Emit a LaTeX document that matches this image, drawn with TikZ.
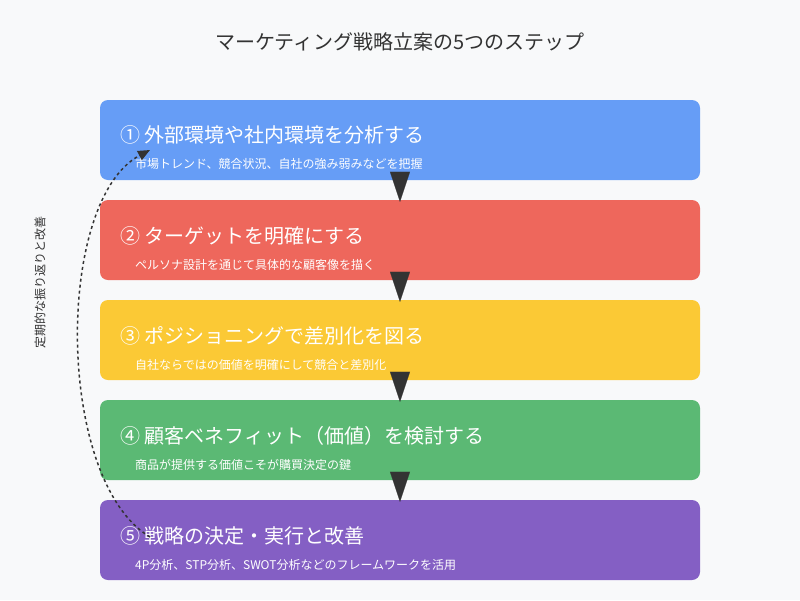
\documentclass[tikz,border=0pt]{standalone}
\usepackage{fontspec}
\setmainfont{Noto Sans CJK JP}
\usetikzlibrary{arrows.meta}
\definecolor{bg}{HTML}{F8F9FA}
\definecolor{c1}{HTML}{669DF6}
\definecolor{c2}{HTML}{EE675C}
\definecolor{c3}{HTML}{FBC935}
\definecolor{c4}{HTML}{5BB974}
\definecolor{c5}{HTML}{845FC4}
\definecolor{ink}{HTML}{333333}
\tikzset{
 stepbox/.style={rounded corners=8pt,minimum width=600pt,minimum height=80pt,inner sep=0pt},
 head/.style={anchor=west,text=white,font=\fontsize{20pt}{24pt}\selectfont,inner sep=0pt},
 sub/.style={anchor=west,text=white,font=\fontsize{12pt}{14pt}\selectfont,inner sep=0pt},
 arr/.style={draw=ink,fill=ink,line width=0.1pt,-{Triangle[width=20pt,length=30pt]}},
}
\begin{document}
\begin{tikzpicture}[x=1pt,y=-1pt]
\fill[bg] (0,0) rectangle (800,600);
\useasboundingbox (0,0) rectangle (800,600);
\node[font=\fontsize{20pt}{24pt}\selectfont,text=ink] (title) at (400,42) {マーケティング戦略立案の5つのステップ};
\foreach \i/\c in {1/c1,2/c2,3/c3,4/c4,5/c5}{
  \node[stepbox,fill=\c] (b\i) at (400,40+100*\i) {};
}
\node[head] (h1) at (120,135) {① 外部環境や社内環境を分析する};
\node[sub] (s1) at (135,164) {市場トレンド、競合状況、自社の強み弱みなどを把握};
\node[head] (h2) at (120,236) {② ターゲットを明確にする};
\node[sub] (s2) at (135,265) {ペルソナ設計を通じて具体的な顧客像を描く};
\node[head] (h3) at (120,336) {③ ポジショニングで差別化を図る};
\node[sub] (s3) at (135,365) {自社ならではの価値を明確にして競合と差別化};
\node[head] (h4) at (120,436) {④ 顧客ベネフィット（価値）を検討する};
\node[sub] (s4) at (135,465) {商品が提供する価値こそが購買決定の鍵};
\node[head] (h5) at (120,536) {⑤ 戦略の決定・実行と改善};
\node[sub] (s5) at (135,565) {4P分析、STP分析、SWOT分析などのフレームワークを活用};
\foreach \i [evaluate=\i as \j using int(\i+1)] in {1,2,3,4}{
  \draw[arr] ([yshift=8pt]b\i.south) -- ([yshift=-2pt]b\j.north);
}
\coordinate (cs) at (150,537);
\coordinate (ce) at (150,150);
\draw[ink,line width=1.5pt,dashed,-{Triangle[width=10pt,length=12pt]}] (cs) .. controls (55,480) and (55,200) .. (ce);
\node[rotate=90,text=ink,font=\fontsize{12pt}{14pt}\selectfont] (lbl) at (40,282) {定期的な振り返りと改善};
\end{tikzpicture}
\end{document}
